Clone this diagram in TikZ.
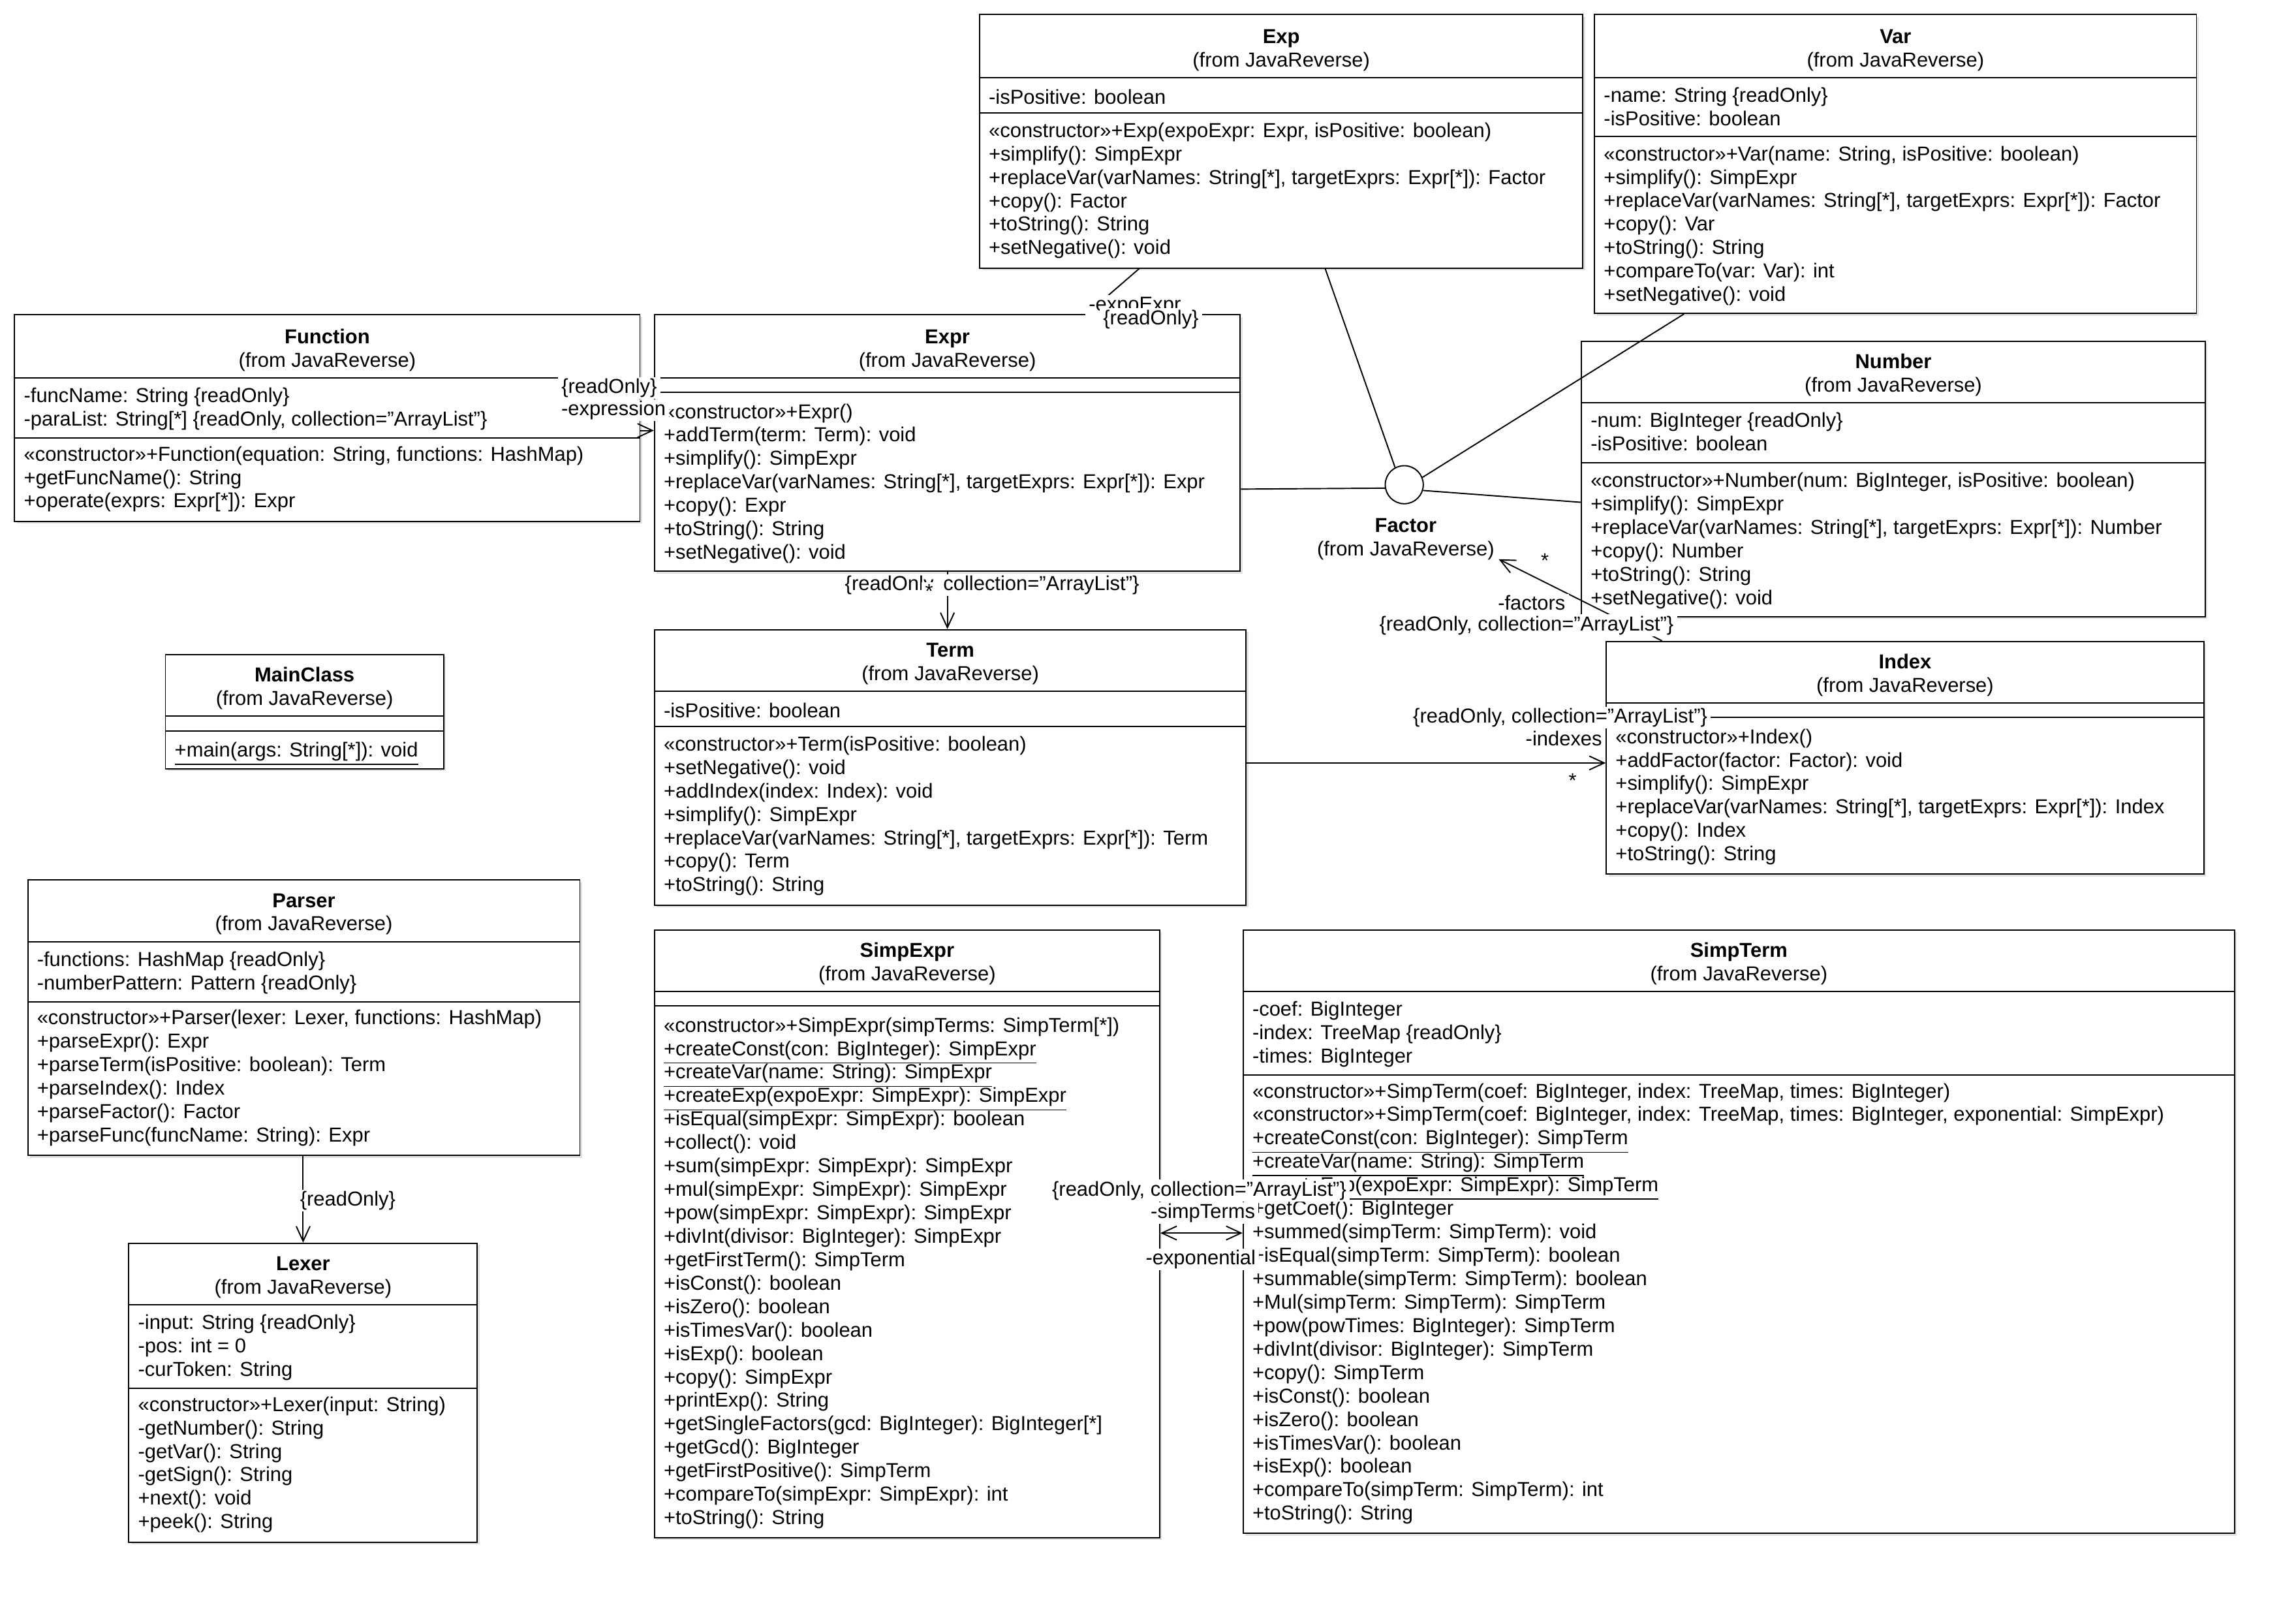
\documentclass[tikz,border=0pt]{standalone}
\usepackage{fontspec}
\setmainfont{Liberation Sans}
\usetikzlibrary{fit,shadows,arrows.meta}

\newcommand{\umlfont}{\fontsize{8.8}{10.22}\selectfont}

\tikzset{
  classbox/.style={draw=black, line width=0.55pt, fill=white, inner sep=0pt,
    drop shadow={shadow xshift=1pt, shadow yshift=-1pt, fill=black!12, opacity=1}},
  cname/.style={font=\umlfont\bfseries, inner sep=0pt, text height=6.4pt, text depth=1.86pt, yshift=-0.045cm},
  cfrom/.style={font=\umlfont, inner sep=0pt, text height=6.4pt, text depth=1.86pt, yshift=-0.045cm},
  members/.style={font=\umlfont, anchor=north west, align=left, inner sep=0pt, yshift=0.1256cm,
    execute at begin node=\strut},
  compline/.style={line width=0.55pt},
  rolelabel/.style={font=\umlfont, fill=white, inner xsep=1.5pt, inner ysep=0.6pt, text height=6.4pt, text depth=1.86pt, yshift=-0.045cm},
  assoc/.style={line width=0.55pt, -{Straight Barb[length=6.5pt, width=6pt]}},
  bothassoc/.style={line width=0.55pt, {Straight Barb[length=6.5pt, width=6pt]}-{Straight Barb[length=6.5pt, width=6pt]}},
  realize/.style={line width=0.55pt},
  lollipop/.style={circle, draw=black, line width=0.55pt, fill=white, minimum size=0.583cm, inner sep=0pt},
}

\begin{document}
\begin{tikzpicture}[x=0.022436cm, y=-0.022436cm]
\useasboundingbox (0,0) rectangle (1568,1096);

\node[classbox, fit={(669,10) (1081,183)}] (exp) {};
\node[cname] (exp-name) at (875,24) {Exp};
\node[cfrom] (exp-from) at (875,40) {(from JavaReverse)};
\draw[compline] (exp.west |- 0,53) -- (exp.east |- 0,53);
\node[members] (exp-attrs) at (675,65) {-isPositive: boolean};
\draw[compline] (exp.west |- 0,77) -- (exp.east |- 0,77);
\node[members] (exp-ops) at (675,89) {«constructor»+Exp(expoExpr: Expr, isPositive: boolean)\\+simplify(): SimpExpr\\+replaceVar(varNames: String[*], targetExprs: Expr[*]): Factor\\+copy(): Factor\\+toString(): String\\+setNegative(): void};

\node[classbox, fit={(1089,10) (1500,214)}] (var) {};
\node[cname] (var-name) at (1294.5,24) {Var};
\node[cfrom] (var-from) at (1294.5,40) {(from JavaReverse)};
\draw[compline] (var.west |- 0,53) -- (var.east |- 0,53);
\node[members] (var-attrs) at (1095,65) {-name: String \{readOnly\}\\-isPositive: boolean};
\draw[compline] (var.west |- 0,93) -- (var.east |- 0,93);
\node[members] (var-ops) at (1095,105) {«constructor»+Var(name: String, isPositive: boolean)\\+simplify(): SimpExpr\\+replaceVar(varNames: String[*], targetExprs: Expr[*]): Factor\\+copy(): Var\\+toString(): String\\+compareTo(var: Var): int\\+setNegative(): void};

\node[classbox, fit={(10,215) (437,356)}] (function) {};
\node[cname] (function-name) at (223.5,229) {Function};
\node[cfrom] (function-from) at (223.5,245) {(from JavaReverse)};
\draw[compline] (function.west |- 0,258) -- (function.east |- 0,258);
\node[members] (function-attrs) at (16,270) {-funcName: String \{readOnly\}\\-paraList: String[*] \{readOnly, collection="ArrayList"\}};
\draw[compline] (function.west |- 0,299) -- (function.east |- 0,299);
\node[members] (function-ops) at (16,310) {«constructor»+Function(equation: String, functions: HashMap)\\+getFuncName(): String\\+operate(exprs: Expr[*]): Expr};

\node[classbox, fit={(447,215) (847,390)}] (expr) {};
\node[cname] (expr-name) at (647,229) {Expr};
\node[cfrom] (expr-from) at (647,245) {(from JavaReverse)};
\draw[compline] (expr.west |- 0,258) -- (expr.east |- 0,258);
\draw[compline] (expr.west |- 0,268) -- (expr.east |- 0,268);
\node[members] (expr-ops) at (453,281) {«constructor»+Expr()\\+addTerm(term: Term): void\\+simplify(): SimpExpr\\+replaceVar(varNames: String[*], targetExprs: Expr[*]): Expr\\+copy(): Expr\\+toString(): String\\+setNegative(): void};

\node[classbox, fit={(1080,233) (1506,421)}] (number) {};
\node[cname] (number-name) at (1293,246) {Number};
\node[cfrom] (number-from) at (1293,262) {(from JavaReverse)};
\draw[compline] (number.west |- 0,275) -- (number.east |- 0,275);
\node[members] (number-attrs) at (1086,287) {-num: BigInteger \{readOnly\}\\-isPositive: boolean};
\draw[compline] (number.west |- 0,316) -- (number.east |- 0,316);
\node[members] (number-ops) at (1086,328) {«constructor»+Number(num: BigInteger, isPositive: boolean)\\+simplify(): SimpExpr\\+replaceVar(varNames: String[*], targetExprs: Expr[*]): Number\\+copy(): Number\\+toString(): String\\+setNegative(): void};

\node[lollipop] (factor) at (959,331) {};
\node[cname] (factor-name) at (960,358) {Factor};
\node[cfrom] (factor-from) at (960,374) {(from JavaReverse)};
\node[fit=(factor)(factor-name)(factor-from), inner sep=1.5pt] (factorall) {};

\node[classbox, fit={(113,447) (303,525)}] (mainclass) {};
\node[cname] (mainclass-name) at (208,460) {MainClass};
\node[cfrom] (mainclass-from) at (208,476) {(from JavaReverse)};
\draw[compline] (mainclass.west |- 0,489) -- (mainclass.east |- 0,489);
\draw[compline] (mainclass.west |- 0,499) -- (mainclass.east |- 0,499);
\node[members] (mainclass-ops) at (119,511) {\underline{+main(args: String[*]): void}};

\node[classbox, fit={(447,430) (851,618)}] (term) {};
\node[cname] (term-name) at (649,443) {Term};
\node[cfrom] (term-from) at (649,459) {(from JavaReverse)};
\draw[compline] (term.west |- 0,472) -- (term.east |- 0,472);
\node[members] (term-attrs) at (453,484) {-isPositive: boolean};
\draw[compline] (term.west |- 0,496) -- (term.east |- 0,496);
\node[members] (term-ops) at (453,508) {«constructor»+Term(isPositive: boolean)\\+setNegative(): void\\+addIndex(index: Index): void\\+simplify(): SimpExpr\\+replaceVar(varNames: String[*], targetExprs: Expr[*]): Term\\+copy(): Term\\+toString(): String};

\node[classbox, fit={(1097,438) (1505,597)}] (index) {};
\node[cname] (index-name) at (1301,451) {Index};
\node[cfrom] (index-from) at (1301,467) {(from JavaReverse)};
\draw[compline] (index.west |- 0,480) -- (index.east |- 0,480);
\draw[compline] (index.west |- 0,490) -- (index.east |- 0,490);
\node[members] (index-ops) at (1103,503) {«constructor»+Index()\\+addFactor(factor: Factor): void\\+simplify(): SimpExpr\\+replaceVar(varNames: String[*], targetExprs: Expr[*]): Index\\+copy(): Index\\+toString(): String};

\node[classbox, fit={(19,601) (396,789)}] (parser) {};
\node[cname] (parser-name) at (207.5,614) {Parser};
\node[cfrom] (parser-from) at (207.5,630) {(from JavaReverse)};
\draw[compline] (parser.west |- 0,643) -- (parser.east |- 0,643);
\node[members] (parser-attrs) at (25,655) {-functions: HashMap \{readOnly\}\\-numberPattern: Pattern \{readOnly\}};
\draw[compline] (parser.west |- 0,684) -- (parser.east |- 0,684);
\node[members] (parser-ops) at (25,695) {«constructor»+Parser(lexer: Lexer, functions: HashMap)\\+parseExpr(): Expr\\+parseTerm(isPositive: boolean): Term\\+parseIndex(): Index\\+parseFactor(): Factor\\+parseFunc(funcName: String): Expr};

\node[classbox, fit={(88,849) (326,1053)}] (lexer) {};
\node[cname] (lexer-name) at (207,862) {Lexer};
\node[cfrom] (lexer-from) at (207,878) {(from JavaReverse)};
\draw[compline] (lexer.west |- 0,891) -- (lexer.east |- 0,891);
\node[members] (lexer-attrs) at (94,903) {-input: String \{readOnly\}\\-pos: int = 0\\-curToken: String};
\draw[compline] (lexer.west |- 0,948) -- (lexer.east |- 0,948);
\node[members] (lexer-ops) at (94,959) {«constructor»+Lexer(input: String)\\-getNumber(): String\\-getVar(): String\\-getSign(): String\\+next(): void\\+peek(): String};

\node[classbox, fit={(447,635) (792,1050)}] (simpexpr) {};
\node[cname] (simpexpr-name) at (619.5,648) {SimpExpr};
\node[cfrom] (simpexpr-from) at (619.5,664) {(from JavaReverse)};
\draw[compline] (simpexpr.west |- 0,677) -- (simpexpr.east |- 0,677);
\draw[compline] (simpexpr.west |- 0,687) -- (simpexpr.east |- 0,687);
\node[members] (simpexpr-ops) at (453,700) {«constructor»+SimpExpr(simpTerms: SimpTerm[*])\\\underline{+createConst(con: BigInteger): SimpExpr}\\\underline{+createVar(name: String): SimpExpr}\\\underline{+createExp(expoExpr: SimpExpr): SimpExpr}\\+isEqual(simpExpr: SimpExpr): boolean\\+collect(): void\\+sum(simpExpr: SimpExpr): SimpExpr\\+mul(simpExpr: SimpExpr): SimpExpr\\+pow(simpExpr: SimpExpr): SimpExpr\\+divInt(divisor: BigInteger): SimpExpr\\+getFirstTerm(): SimpTerm\\+isConst(): boolean\\+isZero(): boolean\\+isTimesVar(): boolean\\+isExp(): boolean\\+copy(): SimpExpr\\+printExp(): String\\+getSingleFactors(gcd: BigInteger): BigInteger[*]\\+getGcd(): BigInteger\\+getFirstPositive(): SimpTerm\\+compareTo(simpExpr: SimpExpr): int\\+toString(): String};

\node[classbox, fit={(849,635) (1526,1047)}] (simpterm) {};
\node[cname] (simpterm-name) at (1187.5,648) {SimpTerm};
\node[cfrom] (simpterm-from) at (1187.5,664) {(from JavaReverse)};
\draw[compline] (simpterm.west |- 0,677) -- (simpterm.east |- 0,677);
\node[members] (simpterm-attrs) at (855,689) {-coef: BigInteger\\-index: TreeMap \{readOnly\}\\-times: BigInteger};
\draw[compline] (simpterm.west |- 0,734) -- (simpterm.east |- 0,734);
\node[members] (simpterm-ops) at (855,745) {«constructor»+SimpTerm(coef: BigInteger, index: TreeMap, times: BigInteger)\\«constructor»+SimpTerm(coef: BigInteger, index: TreeMap, times: BigInteger, exponential: SimpExpr)\\\underline{+createConst(con: BigInteger): SimpTerm}\\\underline{+createVar(name: String): SimpTerm}\\\underline{+createExp(expoExpr: SimpExpr): SimpTerm}\\+getCoef(): BigInteger\\+summed(simpTerm: SimpTerm): void\\+isEqual(simpTerm: SimpTerm): boolean\\+summable(simpTerm: SimpTerm): boolean\\+Mul(simpTerm: SimpTerm): SimpTerm\\+pow(powTimes: BigInteger): SimpTerm\\+divInt(divisor: BigInteger): SimpTerm\\+copy(): SimpTerm\\+isConst(): boolean\\+isZero(): boolean\\+isTimesVar(): boolean\\+isExp(): boolean\\+compareTo(simpTerm: SimpTerm): int\\+toString(): String};

\draw[realize] (exp.south -| 905,0) -- (factor.118);
\draw[realize] (var.south -| 1150,0) -- (factor.22);
\draw[realize] (expr.east |- 0,334) -- (factor.190);
\draw[realize] (number.west |- 0,343) -- (factor.-17);

\draw[assoc] (exp.south -| 778,0) -- (expr.north -| 742,0);
\draw[assoc] (function.east |- 0,294) -- (expr.west |- 0,294);
\draw[assoc] (expr.south -| 647,0) -- (term.north -| 647,0);
\draw[assoc] (term.east |- 0,521) -- (index.west |- 0,521);
\draw[assoc] (index.north -| 1135,0) -- (factorall);
\draw[assoc] (parser.south -| 207,0) -- (lexer.north -| 207,0);
\draw[bothassoc] (simpexpr.east |- 0,842) -- (simpterm.west |- 0,842);

\node[rolelabel] (fe-mult) at (416,263) {\{readOnly\}};
\node[rolelabel] (fe-role) at (419,278) {-expression};
\node[rolelabel] (ee-role) at (775,207) {-expoExpr};
\node[rolelabel] (ee-mult) at (786,216) {\{readOnly\}};
\node[rolelabel] (et-prop) at (677.5,397.5) {\{readOnly, collection="ArrayList"\}};
\node[rolelabel] (et-mult) at (634.5,403) {*};
\node[rolelabel] (ti-prop) at (1065.5,488) {\{readOnly, collection="ArrayList"\}};
\node[rolelabel] (ti-role) at (1068,503.5) {-indexes};
\node[rolelabel] (ti-mult) at (1074,532) {*};
\node[rolelabel] (if-mult) at (1055,382) {*};
\node[rolelabel] (if-role) at (1046,411) {-factors};
\node[rolelabel] (if-prop) at (1042.5,425) {\{readOnly, collection="ArrayList"\}};
\node[rolelabel] (pl-prop) at (237.5,818) {\{readOnly\}};
\node[rolelabel] (ss-prop) at (819,811) {\{readOnly, collection="ArrayList"\}};
\node[rolelabel] (ss-role) at (821.5,826.5) {-simpTerms};
\node[rolelabel] (ss-back) at (820,858) {-exponential};

\end{tikzpicture}
\end{document}
